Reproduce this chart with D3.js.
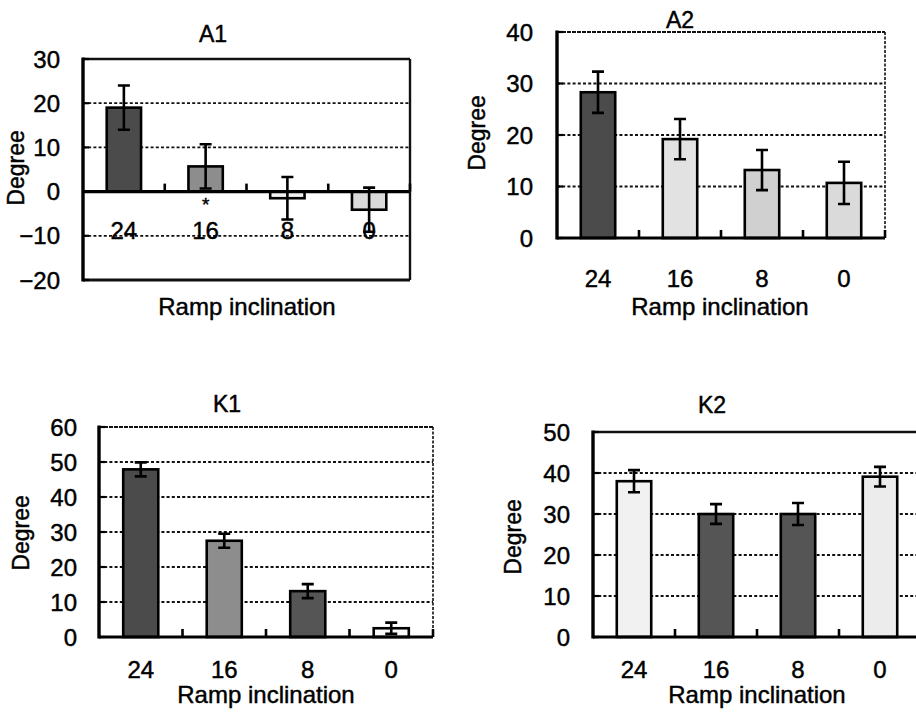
<!DOCTYPE html>
<head>
    <meta charset="utf-8">
    <title>Ramp inclination</title>
    <style>
        body { margin: 0; background: #fff; }
        svg { display: block; }
        text {
          font-family: "Liberation Sans", Arial, sans-serif;
          fill: #000;
          stroke: #000;
          stroke-width: 0.45px;
        }
        .grid {
          stroke: #111;
          stroke-width: 1.8px;
          stroke-dasharray: 3,2.2;
        }
        .err { stroke: #000; stroke-width: 2.6px; fill: none; }
        .bar { stroke: #000; stroke-width: 2.6px; }
    </style>
</head>
<body>
<script src="https://d3js.org/d3.v7.min.js"></script>
<script>

// categories (ramp inclination, degrees)
var categories = ["24", "16", "8", "0"];

// mean and error (SD) values
var a1Means = [19, 5.7, -1.5, -4.1],
    a1Errors = [5, 5, 4.8, 5];
var a2Means = [28.3, 19.2, 13.2, 10.7],
    a2Errors = [4, 3.9, 3.9, 4.1];
var k1Means = [47.9, 27.5, 13.1, 2.5],
    k1Errors = [2, 2, 2, 1.6];
var k2Means = [38, 30, 30, 39.1],
    k2Errors = [2.7, 2.4, 2.7, 2.4];

// y tick values
var a1Ticks = [-20, -10, 0, 10, 20, 30],
    a2Ticks = [0, 10, 20, 30, 40],
    k1Ticks = [0, 10, 20, 30, 40, 50, 60],
    k2Ticks = [0, 10, 20, 30, 40, 50];

var dark = "#4b4b4b", mid = "#8d8d8d", light = "#dadada", pale = "#f1f1f1";

// panel layout (pixels)
var panels = [
  { title: "A1", means: a1Means, errors: a1Errors, ticks: a1Ticks,
    fills: [dark, mid, pale, light],
    x0: 83, x1: 410, yTop: 59, yBot: 280,
    titleX: 213, titleY: 42, catY: 239, xTitleX: 247, xTitleY: 315,
    yLabX: 16, yLabY: 168, tickX: 60, frame: "full", star: 1 },
  { title: "A2", means: a2Means, errors: a2Errors, ticks: a2Ticks,
    fills: [dark, "#e2e2e2", "#d0d0d0", light],
    x0: 557, x1: 885, yTop: 32, yBot: 238,
    titleX: 680, titleY: 28, catY: 287, xTitleX: 720, xTitleY: 315,
    yLabX: 477, yLabY: 133, tickX: 533, frame: "open" },
  { title: "K1", means: k1Means, errors: k1Errors, ticks: k1Ticks,
    fills: [dark, mid, "#555", "#fafafa"],
    x0: 99, x1: 433, yTop: 427, yBot: 637,
    titleX: 227, titleY: 412, catY: 678, xTitleX: 266, xTitleY: 703,
    yLabX: 21, yLabY: 533, tickX: 77, frame: "open" },
  { title: "K2", means: k2Means, errors: k2Errors, ticks: k2Ticks,
    fills: [pale, "#555", "#555", "#ececec"],
    x0: 593, x1: 921, yTop: 432, yBot: 637,
    titleX: 712, titleY: 413, catY: 678, xTitleX: 757, xTitleY: 703,
    yLabX: 513, yLabY: 537, tickX: 570, frame: "full" }
];

var svg = d3.select("body").append("svg")
    .attr("width", 916)
    .attr("height", 712);

panels.forEach(drawPanel);

function drawPanel(p) {
  var g = svg.append("g");

  var x = d3.scaleBand()
      .domain(categories)
      .range([p.x0, p.x1]);

  var y = d3.scaleLinear()
      .domain(d3.extent(p.ticks))
      .range([p.yBot, p.yTop]);

  var barW = x.bandwidth() * 0.42;

  // dashed gridlines (skip zero and the frame edges)
  g.selectAll(".grid")
    .data(p.ticks.filter(function(t) { return t !== 0 && t !== y.domain()[0] && t !== y.domain()[1]; }))
    .enter().append("line")
      .attr("class", "grid")
      .attr("x1", p.x0).attr("x2", p.x1)
      .attr("y1", function(d) { return y(d); })
      .attr("y2", function(d) { return y(d); });

  // frame
  var top = y(y.domain()[1]), bottom = y(y.domain()[0]);
  g.append("line")
      .attr("x1", p.x0).attr("x2", p.x1).attr("y1", top).attr("y2", top)
      .attr("stroke", "#111").attr("stroke-width", p.frame === "full" ? 2.6 : 2)
      .attr("stroke-dasharray", p.frame === "full" ? null : "4,1");
  g.append("line")
      .attr("x1", p.x1).attr("x2", p.x1).attr("y1", top).attr("y2", bottom)
      .attr("stroke", "#111").attr("stroke-width", p.frame === "full" ? 2.4 : 1.6)
      .attr("stroke-dasharray", p.frame === "full" ? null : "3,1.5");
  if (y.domain()[0] < 0) {
    g.append("line")
        .attr("x1", p.x0).attr("x2", p.x1).attr("y1", bottom).attr("y2", bottom)
        .attr("stroke", "#111").attr("stroke-width", 2.8);
  }

  // bars
  g.selectAll(".bar")
    .data(p.means)
    .enter().append("rect")
      .attr("class", "bar")
      .attr("x", function(d, i) { return x(categories[i]) + (x.bandwidth() - barW) / 2; })
      .attr("width", barW)
      .attr("y", function(d) { return y(Math.max(0, d)); })
      .attr("height", function(d) { return Math.abs(y(d) - y(0)); })
      .attr("fill", function(d, i) { return p.fills[i]; });

  // error bars
  p.means.forEach(function(m, i) {
    var cx = x(categories[i]) + x.bandwidth() / 2,
        hi = y(m + p.errors[i]), lo = y(m - p.errors[i]);
    g.append("path")
        .attr("class", "err")
        .attr("d", "M" + cx + "," + hi + "V" + lo +
                   "M" + (cx - 6) + "," + hi + "H" + (cx + 6) +
                   "M" + (cx - 6) + "," + lo + "H" + (cx + 6));
  });

  // zero axis and left axis
  g.append("line")
      .attr("x1", p.x0).attr("x2", p.x1).attr("y1", y(0)).attr("y2", y(0))
      .attr("stroke", "#000").attr("stroke-width", 3.2);
  g.append("line")
      .attr("x1", p.x0).attr("x2", p.x0).attr("y1", top - 1.5).attr("y2", bottom + 1.5)
      .attr("stroke", "#000").attr("stroke-width", 3.4);

  // small upward ticks between categories
  g.selectAll(".xtick")
    .data(categories.slice(1).map(function(c) { return x(c); }).concat([p.x1]))
    .enter().append("line")
      .attr("x1", function(d) { return d; }).attr("x2", function(d) { return d; })
      .attr("y1", y(0)).attr("y2", y(0) - 8)
      .attr("stroke", "#000").attr("stroke-width", 2.6);

  // y ticks and labels
  g.selectAll(".ytick")
    .data(p.ticks)
    .enter().append("line")
      .attr("x1", p.x0).attr("x2", p.x0 + 6)
      .attr("y1", function(d) { return y(d); })
      .attr("y2", function(d) { return y(d); })
      .attr("stroke", "#000").attr("stroke-width", 2.2);

  g.selectAll(".ylab")
    .data(p.ticks)
    .enter().append("text")
      .attr("x", p.tickX)
      .attr("y", function(d) { return y(d); })
      .attr("dy", "0.36em")
      .attr("text-anchor", "end")
      .style("font-size", "24px")
      .text(function(d) { return d < 0 ? "\u2212" + Math.abs(d) : d; });

  // category labels
  g.selectAll(".cat")
    .data(categories)
    .enter().append("text")
      .attr("x", function(d) { return x(d) + x.bandwidth() / 2; })
      .attr("y", p.catY)
      .attr("text-anchor", "middle")
      .style("font-size", "24px")
      .text(function(d) { return d; });

  // titles
  g.append("text")
      .attr("x", p.titleX).attr("y", p.titleY)
      .attr("text-anchor", "middle")
      .style("font-size", "23px")
      .text(p.title);

  g.append("text")
      .attr("x", p.xTitleX).attr("y", p.xTitleY)
      .attr("text-anchor", "middle")
      .style("font-size", "24px")
      .text("Ramp inclination");

  g.append("text")
      .attr("transform", "translate(" + p.yLabX + "," + p.yLabY + ")rotate(-90)")
      .attr("dy", "0.36em")
      .attr("text-anchor", "middle")
      .style("font-size", "23px")
      .text("Degree");

  if (p.star !== undefined) {
    g.append("text")
        .attr("x", x(categories[p.star]) + x.bandwidth() / 2)
        .attr("y", y(0) + 19)
        .attr("text-anchor", "middle")
        .style("font-size", "19px")
        .text("*");
  }
}

</script>
